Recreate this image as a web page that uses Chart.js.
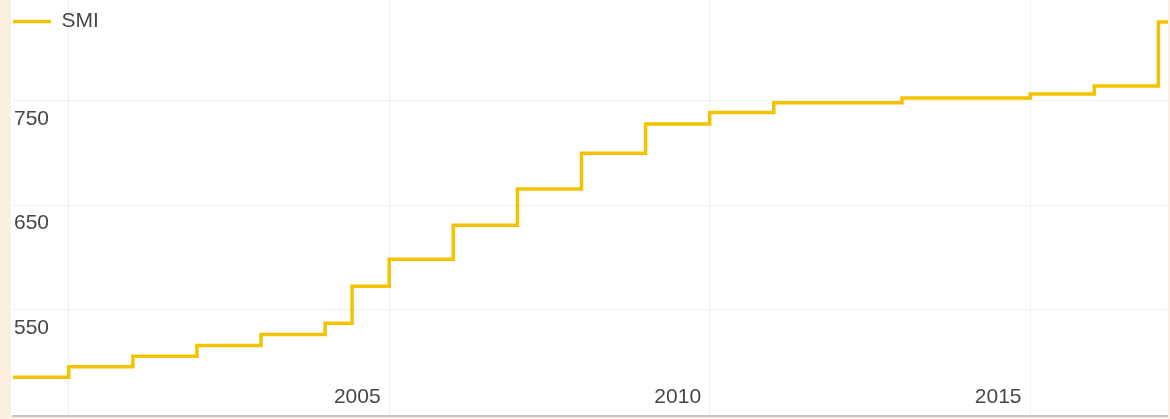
<!DOCTYPE html>
<html lang="es">
<head>
  <meta charset="UTF-8" />
  <title>SMI</title>
  <script src="https://cdn.jsdelivr.net/npm/chart.js"></script>
  <style>
    html, body {
      margin: 0;
      padding: 0;
      width: 1170px;
      height: 419px;
      overflow: hidden;
      background-color: #fdefe0;
      font-family: 'Liberation Sans', Arial, sans-serif;
    }

    .chart-container {
      position: absolute;
      left: 11px;
      top: 0;
      width: 1157px;
      height: 417px;
    }

    canvas {
      background: white;
    }
  </style>
</head>
<body>
  <div class="chart-container">
    <canvas id="smiChart"></canvas>
  </div>

  <script>
    // Salario mínimo (prorrateado en 12 pagas), momento del cambio -> nuevo valor
    const stepYears = [1999.13, 2000, 2001, 2002, 2003, 2004, 2004.42, 2005, 2006, 2007, 2008, 2009, 2010, 2011, 2013, 2015, 2016, 2017, 2017.15];
    const smiValues = [485.7, 495.6, 505.7, 515.9, 526.4, 537.3, 572.6, 598.5, 631.1, 665.7, 700.0, 728.0, 738.9, 748.3, 752.9, 756.7, 764.4, 825.5, 825.5];

    const xTicks = [2000, 2005, 2010, 2015];
    const xTickLabels = ['', '2005', '2010', '2015'];
    const yTicks = [550, 650, 750];

    const textColor = '#474747';
    const gridColor = '#f0f0f0';
    const labelFont = { family: "'Liberation Sans', Arial, sans-serif", size: 21 };

    const ctx = document.getElementById('smiChart').getContext('2d');

    new Chart(ctx, {
      type: 'line',
      data: {
        datasets: [{
          label: 'SMI',
          data: stepYears.map((x, i) => ({ x: x, y: smiValues[i] })),
          borderColor: '#f4c300',
          backgroundColor: '#f4c300',
          borderWidth: 3.5,
          pointRadius: 0,
          stepped: true,
          fill: false
        }]
      },
      options: {
        responsive: true,
        maintainAspectRatio: false,
        animation: false,
        layout: { padding: 0 },
        plugins: {
          tooltip: { enabled: false },
          legend: {
            position: 'chartArea',
            align: 'start',
            title: {
              display: true,
              text: '',
              font: { size: 11, lineHeight: 1 },
              padding: 0
            },
            labels: {
              usePointStyle: true,
              pointStyle: 'line',
              pointStyleWidth: 38,
              boxWidth: 38,
              padding: 0,
              color: textColor,
              font: labelFont
            }
          }
        },
        scales: {
          x: {
            type: 'linear',
            min: 1999.13,
            max: 2017.15,
            afterBuildTicks: scale => { scale.ticks = xTicks.map(v => ({ value: v })); },
            afterFit: scale => {
              scale.height = 1;
              scale.paddingLeft = 0;
              scale.paddingRight = 0;
            },
            grid: { color: gridColor, drawTicks: false },
            border: { display: true, color: '#c4c4c4', width: 2 },
            ticks: {
              mirror: true,
              padding: 6,
              labelOffset: -32,
              maxRotation: 0,
              color: textColor,
              font: labelFont,
              callback: function(value) {
                const i = xTicks.indexOf(value);
                return i >= 0 ? xTickLabels[i] : '';
              }
            }
          },
          y: {
            min: 448.5,
            max: 846.6,
            afterBuildTicks: scale => { scale.ticks = yTicks.map(v => ({ value: v })); },
            afterFit: scale => {
              scale.paddingTop = 0;
              scale.paddingBottom = 0;
            },
            grid: { color: gridColor, drawTicks: false },
            border: { display: false },
            ticks: {
              mirror: true,
              padding: 1,
              labelOffset: 18,
              color: textColor,
              font: labelFont
            }
          }
        }
      }
    });
  </script>
</body>
</html>
